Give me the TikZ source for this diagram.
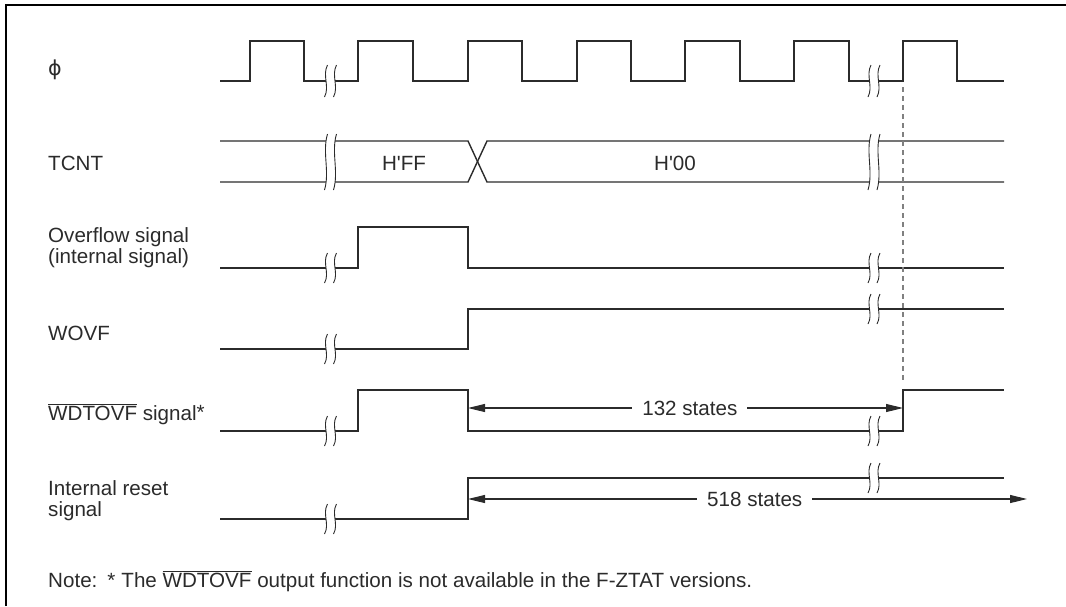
\documentclass[tikz,border=0pt]{standalone}
\usepackage{fontspec}
\setmainfont{Liberation Sans}
\newfontfamily\symfont{DejaVu Sans}
\usetikzlibrary{arrows.meta}
\definecolor{ink}{HTML}{2B2B2B}
\newcommand{\tfont}{\fontsize{20.6}{21}\selectfont}
\tikzset{
  sig/.style={line width=1.4pt, draw=ink, line join=miter},
  lbl/.style={anchor=base west, inner sep=0pt, text=ink, font=\tfont},
  val/.style={anchor=base, inner sep=0pt, text=ink, font=\tfont},
  dimarrow/.style={line width=1.1pt, draw=ink, {Triangle[length=17pt,width=8pt]}-{Triangle[length=17pt,width=8pt]}},
  dimlbl/.style={fill=white, inner xsep=10pt, inner ysep=2pt, text=ink, font=\tfont},
  pics/brk/.style={code={
    \fill[white] (-4.5+1.5,-#1) .. controls (-4.5-4,-#1/3) and (-4.5+4,#1/3) .. (-4.5-1.5,#1)
       -- (4.5-1.5,#1) .. controls (4.5+4,#1/3) and (4.5-4,-#1/3) .. (4.5+1.5,-#1) -- cycle;
    \draw[line width=0.9pt, draw=ink] (-4.5+1.5,-#1) .. controls (-4.5-4,-#1/3) and (-4.5+4,#1/3) .. (-4.5-1.5,#1);
    \draw[line width=0.9pt, draw=ink] (4.5+1.5,-#1) .. controls (4.5-4,-#1/3) and (4.5+4,#1/3) .. (4.5-1.5,#1);
  }}
}
\begin{document}
\begin{tikzpicture}[x=1pt, y=-1pt]
\useasboundingbox (0,0) rectangle (1066,606);
% frame
\draw[line width=2pt, draw=black] (6,606) -- (6,5) -- (1066,5);

% labels
\node[lbl] (lphi) at (48,75) {\symfont ϕ};
\node[lbl] (ltcnt) at (48,170) {TCNT};
\node[lbl] (lovf1) at (48,242) {Overflow signal};
\node[lbl] (lovf2) at (48,263) {(internal signal)};
\node[lbl] (lwovf) at (48,340) {WOVF};
\node[lbl] (lwdt) at (48,420) {$\overline{\mbox{WDTOVF}}$ signal\raisebox{1pt}{*}};
\node[lbl] (lrst1) at (48,495) {Internal reset};
\node[lbl] (lrst2) at (48,516) {signal};
\node[lbl] (lnote) at (48,587) {Note:\hspace{10pt}*\hspace{6pt}The $\overline{\mbox{WDTOVF}}$ output function is not available in the F-ZTAT versions.};

% clock
\draw[sig] (220,81) -- (250,81) -- (250,41) -- (304,41) -- (304,81) -- (358,81) -- (358,41) -- (413,41) -- (413,81)
  -- (468,81) -- (468,41) -- (522,41) -- (522,81) -- (577,81) -- (577,41) -- (631,41) -- (631,81)
  -- (685,81) -- (685,41) -- (740,41) -- (740,81) -- (794,81) -- (794,41) -- (849,41) -- (849,81)
  -- (903,81) -- (903,41) -- (957,41) -- (957,81) -- (1004,81);

% TCNT
\draw[sig] (220,141) -- (468,141) -- (487,182) -- (1004,182);
\draw[sig] (220,182) -- (468,182) -- (487,141) -- (1004,141);
\node[val] (vff) at (404,170) {H\textquotesingle FF};
\node[val] (v00) at (675,170) {H\textquotesingle 00};

% overflow
\draw[sig] (220,268) -- (358,268) -- (358,227) -- (468,227) -- (468,268) -- (1004,268);
% WOVF
\draw[sig] (220,349) -- (468,349) -- (468,309) -- (1004,309);
% WDTOVF
\draw[sig] (220,431) -- (358,431) -- (358,390) -- (468,390) -- (468,431) -- (903,431) -- (903,390) -- (1004,390);
% internal reset
\draw[sig] (220,519) -- (468,519) -- (468,478) -- (1004,478);

% breaks
\pic at (330.5,81) {brk=16};
\pic at (330.5,162) {brk=28};
\pic at (330.5,268) {brk=15};
\pic at (330.5,349) {brk=15};
\pic at (330.5,431) {brk=15};
\pic at (330.5,519) {brk=15};
\pic at (874,81) {brk=16};
\pic at (874,162) {brk=28};
\pic at (874,268) {brk=15};
\pic at (874,309) {brk=15};
\pic at (874,431) {brk=15};
\pic at (874,478) {brk=15};

% dashed marker
\coordinate (dtop) at (903,87);
\coordinate (dbot) at (903,380);
\draw[line width=1.2pt, draw=black!50, dash pattern=on 5pt off 4pt] (dtop) -- (dbot);

% dimension arrows
\coordinate (a1) at (468,408);
\coordinate (a2) at (903,408);
\draw[dimarrow] (a1) -- node[dimlbl, pos=0.51] (t132) {132 states} (a2);
\coordinate (b1) at (468,499);
\coordinate (b2) at (1027,499);
\draw[dimarrow] (b1) -- node[dimlbl, pos=0.513] (t518) {518 states} (b2);
\end{tikzpicture}
\end{document}
